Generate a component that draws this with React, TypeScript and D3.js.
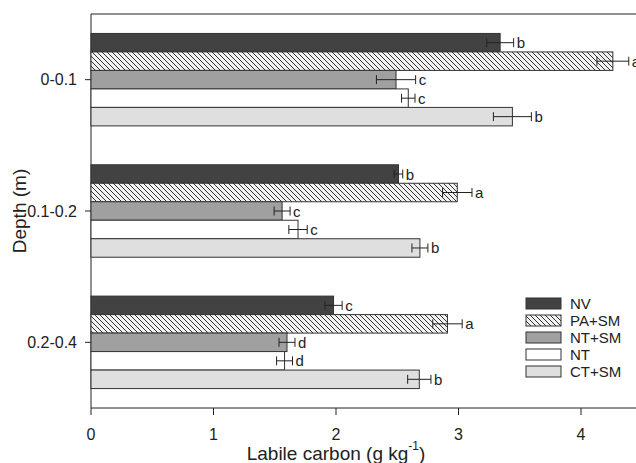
import * as d3 from 'd3';

const DEPTHS = ['0-0.1', '0.1-0.2', '0.2-0.4'];
const TREATMENTS = ['NV', 'PA+SM', 'NT+SM', 'NT', 'CT+SM'];
// mean labile carbon per depth, in treatment order
const MEANS = [
  [3.34, 4.26, 2.49, 2.59, 3.44],
  [2.51, 2.99, 1.56, 1.69, 2.685],
  [1.98, 2.91, 1.6, 1.58, 2.68],
];
const ERRORS = [
  [0.11, 0.13, 0.16, 0.055, 0.155],
  [0.035, 0.12, 0.065, 0.075, 0.065],
  [0.07, 0.12, 0.065, 0.065, 0.095],
];
const LETTERS = [
  ['b', 'a', 'c', 'c', 'b'],
  ['b', 'a', 'c', 'c', 'b'],
  ['c', 'a', 'd', 'd', 'b'],
];
const X_TICKS = [0, 1, 2, 3, 4];

const FILLS: Record<string, string> = {
  NV: '#424242',
  'PA+SM': 'url(#hatch)',
  'NT+SM': '#a0a0a0',
  NT: '#ffffff',
  'CT+SM': '#dfdfdf',
};

const W = 636;
const H = 463;
const FONT = '"Liberation Sans", Arial, sans-serif';
const INK = '#222';

export default function App() {
  const left = 91;
  const top = 14;
  const bottom = 408;

  const x = d3.scaleLinear().domain([0, 4.5]).range([left, left + 4.5 * 122.5]);
  const y = d3.scaleBand().domain(DEPTHS).range([top, bottom]).paddingInner(0.296).paddingOuter(0.148);
  const yi = d3.scaleBand().domain(TREATMENTS).range([0, y.bandwidth()]);
  const bh = yi.bandwidth();

  return (
    <div style={{ position: 'fixed', left: 0, top: 0 }}>
      <svg width={W} height={H} style={{ display: 'block', background: '#fff' }}>
        <defs>
          <pattern id="hatch" width={5} height={5} patternUnits="userSpaceOnUse">
            <rect width={5} height={5} fill="#f2f2f2" />
            <path d="M0,0 L5,5 M-1,4 L1,6 M4,-1 L6,1" stroke="#333" strokeWidth={1} />
          </pattern>
        </defs>

        {/* frame */}
        <line x1={left} x2={W} y1={top} y2={top} stroke={INK} />
        <line x1={left} x2={left} y1={top} y2={bottom} stroke={INK} />
        <line x1={left} x2={W} y1={bottom} y2={bottom} stroke={INK} />

        {/* bars */}
        {DEPTHS.map((dep, gi) => (
          <g key={dep}>
            {TREATMENTS.map((t, ti) => {
              const v = MEANS[gi][ti];
              const e = ERRORS[gi][ti];
              const by = (y(dep) ?? 0) + (yi(t) ?? 0);
              const cy = by + bh / 2;
              const x0 = x(v - e);
              const x1 = x(v + e);
              return (
                <g key={t}>
                  <rect x={left} y={by} width={x(v) - left} height={bh} fill={FILLS[t]} stroke="#333" strokeWidth={1} />
                  <line x1={x0} x2={x1} y1={cy} y2={cy} stroke={INK} />
                  <line x1={x0} x2={x0} y1={cy - 4.5} y2={cy + 4.5} stroke={INK} />
                  <line x1={x1} x2={x1} y1={cy - 4.5} y2={cy + 4.5} stroke={INK} />
                  <text x={x1 + 3} y={cy} dominantBaseline="central" fontSize={15} fontFamily={FONT} fill={INK}>
                    {LETTERS[gi][ti]}
                  </text>
                </g>
              );
            })}
          </g>
        ))}

        {/* y axis */}
        {DEPTHS.map(dep => {
          const cy = (y(dep) ?? 0) + y.bandwidth() / 2;
          return (
            <g key={dep}>
              <line x1={left - 6} x2={left} y1={cy} y2={cy} stroke={INK} />
              <text x={left - 14} y={cy} textAnchor="end" dominantBaseline="central" fontSize={16} fontFamily={FONT} fill={INK}>
                {dep}
              </text>
            </g>
          );
        })}
        <text
          transform={`translate(19,${(top + bottom) / 2}) rotate(-90)`}
          textAnchor="middle"
          dominantBaseline="central"
          fontSize={19}
          fontFamily={FONT}
          fill={INK}
        >
          Depth (m)
        </text>

        {/* x axis */}
        {X_TICKS.map(t => (
          <g key={t}>
            <line x1={x(t)} x2={x(t)} y1={bottom} y2={bottom + 7} stroke={INK} />
            <text x={x(t)} y={bottom + 26} textAnchor="middle" dominantBaseline="central" fontSize={16} fontFamily={FONT} fill={INK}>
              {t}
            </text>
          </g>
        ))}
        <text x={336} y={453} textAnchor="middle" dominantBaseline="central" fontSize={19} fontFamily={FONT} fill={INK}>
          Labile carbon (g kg
          <tspan dy={-7} fontSize={12}>-1</tspan>
          <tspan dy={7}>)</tspan>
        </text>

        {/* legend */}
        {TREATMENTS.map((t, i) => {
          const ly = 298 + i * 17;
          return (
            <g key={t}>
              <rect x={526} y={ly} width={35} height={11} fill={FILLS[t]} stroke="#333" />
              <text x={570} y={ly + 5.5} dominantBaseline="central" fontSize={15} fontFamily={FONT} fill={INK}>
                {t}
              </text>
            </g>
          );
        })}
      </svg>
    </div>
  );
}
